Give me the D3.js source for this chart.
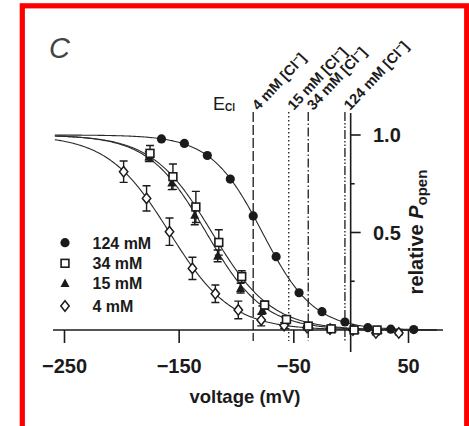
<!DOCTYPE html>
<html>
<head>
<meta charset="utf-8">
<script src="https://cdn.jsdelivr.net/npm/d3@7"></script>
<style>
html,body{margin:0;padding:0;background:#fff;}
svg{display:block;}
text{font-family:"Liberation Sans",Arial,sans-serif;}
</style>
</head>
<body>
<svg id="chart" width="469" height="426"></svg>
<script>
// ---- data ----
const seriesNames = ["124 mM", "34 mM", "15 mM", "4 mM"];
const v124 = [-165, -145, -125, -105, -85, -65, -45, -25, -5, 15, 35, 55];
const p124 = [0.98, 0.957, 0.895, 0.774, 0.585, 0.376, 0.191, 0.094, 0.041, 0.012, 0.004, 0.002];
const e124 = [0, 0, 0, 0, 0, 0, 0, 0, 0, 0, 0, 0];
const v34 = [-175, -155, -135, -115, -95, -75, -56, -37, -17, 3, 23];
const p34 = [0.906, 0.786, 0.631, 0.449, 0.274, 0.128, 0.054, 0.02, 0.006, 0.0, 0.0];
const e34 = [0.04, 0.065, 0.08, 0.065, 0.03, 0.02, 0.015, 0.012, 0.01, 0.01, 0.008];
const v15 = [-176, -156, -136, -116, -96, -77, -57, -36, -16, 4, 24];
const p15 = [0.889, 0.755, 0.59, 0.38, 0.215, 0.103, 0.051, 0.022, 0.008, 0.002, 0.0];
const e15 = [0.025, 0.035, 0.05, 0.03, 0.025, 0.02, 0.015, 0.01, 0.005, 0.004, 0.004];
const v4 = [-198, -178, -158, -138, -118, -98, -78, -58, -38, -18, 2, 22, 42];
const p4 = [0.812, 0.675, 0.504, 0.316, 0.186, 0.103, 0.051, 0.023, 0.012, 0.005, 0.0, -0.015, -0.015];
const e4 = [0.055, 0.065, 0.07, 0.057, 0.045, 0.045, 0.03, 0.015, 0.01, 0.008, 0.005, 0.01, 0.01];
// Boltzmann fit parameters per series
const fitVHalf = [-77, -121, -126, -158];
const fitSlope = [22.5, 26, 25, 27];
// reversal potentials
const eclLabels = ["4 mM [Cl", "15 mM [Cl", "34 mM [Cl", "124 mM [Cl"];
const eclValues = [-85, -54, -37, -5];
const xTicks = [-250, -150, -50, 50];
const xTickLabels = ["\u2212250", "\u2212150", "\u221250", "50"];
const yTicks = [0, 0.25, 0.5, 0.75, 1.0];
const yTickLabels = ["1.0", "0.5"];
const yTickLabelValues = [1.0, 0.5];

// ---- setup ----
const svg = d3.select("#chart");
const ink = "#1b1b1b";
const x = d3.scaleLinear().domain([-250, 50]).range([64, 408]);
const y = d3.scaleLinear().domain([0, 1]).range([330, 135]);

// red frame
svg.append("rect").attr("x", 22.3).attr("y", 5.8).attr("width", 444.4).attr("height", 440)
  .attr("fill", "none").attr("stroke", "#f00").attr("stroke-width", 5.2);

// panel letter
svg.append("text").attr("x", 49).attr("y", 58).text("C")
  .attr("font-family", "'Liberation Serif','DejaVu Serif',serif").attr("font-style", "italic")
  .attr("font-size", 29).attr("fill", "#444");

// x axis
const xAxisG = svg.append("g").attr("transform", "translate(0,330)");
xAxisG.call(d3.axisBottom(x).tickValues(xTicks).tickSize(13).tickFormat((d, i) => xTickLabels[i]));
xAxisG.select(".domain").attr("d", "M53,0H443").attr("stroke", ink).attr("stroke-width", 1.6);
xAxisG.selectAll(".tick line").attr("stroke", ink).attr("stroke-width", 1.6);
xAxisG.selectAll(".tick text").attr("fill", ink).attr("font-size", 20).attr("font-weight", "bold")
  .attr("font-family", "'Liberation Sans',Arial,sans-serif").attr("dy", null).attr("y", 43);

svg.append("text").attr("x", 245).attr("y", 403).attr("text-anchor", "middle")
  .attr("font-size", 18.5).attr("font-weight", "bold").attr("fill", ink).text("voltage (mV)");

// y axis (at 0 mV)
const x0 = x(0);
svg.append("line").attr("x1", x0).attr("x2", x0).attr("y1", 113).attr("y2", 352)
  .attr("stroke", ink).attr("stroke-width", 1.6);
svg.selectAll(".ytick").data(yTicks).join("line").attr("class", "ytick")
  .attr("x1", x0).attr("x2", d => x0 + (d === 0.5 || d === 1 ? 10 : 4))
  .attr("y1", d => y(d)).attr("y2", d => y(d)).attr("stroke", ink).attr("stroke-width", 1.6);
svg.selectAll(".ylab").data(yTickLabelValues).join("text").attr("class", "ylab")
  .attr("x", 373).attr("y", d => y(d) + 7).attr("font-size", 20).attr("font-weight", "bold")
  .attr("fill", ink).text((d, i) => yTickLabels[i]);

const yl = svg.append("text").attr("transform", "translate(423,232) rotate(-90)")
  .attr("text-anchor", "middle").attr("font-size", 20).attr("font-weight", "bold").attr("fill", ink);
yl.append("tspan").text("relative ");
yl.append("tspan").attr("font-style", "italic").text("P");
yl.append("tspan").attr("font-size", 15).attr("dy", 4).text("open");

// reversal potential lines
const dashes = ["10,3", "1.4,2.6", "9,2.5,1.5,2.5", "9,2,1.5,2,1.5,2"];
svg.selectAll(".ecl").data(eclValues).join("line").attr("class", "ecl")
  .attr("x1", d => x(d)).attr("x2", d => x(d)).attr("y1", 112).attr("y2", 341)
  .attr("stroke", ink).attr("stroke-width", 1.3).attr("stroke-dasharray", (d, i) => dashes[i]);
eclValues.forEach((v, i) => {
  const t = svg.append("text").attr("transform", `translate(${x(v) + 5},111) rotate(-47)`)
    .attr("font-size", 14.5).attr("font-weight", "bold").attr("fill", ink);
  t.append("tspan").text(eclLabels[i]);
  t.append("tspan").attr("font-size", 10.5).attr("dy", -5).text("\u2212");
  t.append("tspan").attr("dy", 5).text("]");
});
const el = svg.append("text").attr("x", 213).attr("y", 110).attr("font-size", 18).attr("fill", ink);
el.append("tspan").text("E");
el.append("tspan").attr("font-size", 10).attr("font-weight", "bold").attr("dy", 1).text("Cl");

// fit curves
const curveV = d3.range(-258, 76, 1);
const line = d3.line().x(d => x(d[0])).y(d => y(d[1]));
fitVHalf.forEach((vh, i) => {
  const pts = curveV.map(v => [v, 1 / (1 + Math.exp((v - vh) / fitSlope[i]))]);
  svg.append("path").attr("d", line(pts)).attr("fill", "none").attr("stroke", "#2a2a2a").attr("stroke-width", 1.1);
});

// markers
function diamondPath(cx, cy, w, h) {
  return `M${cx},${cy - h}L${cx + w},${cy}L${cx},${cy + h}L${cx - w},${cy}Z`;
}
function drawMarker(g, kind, cx, cy) {
  if (kind === 0) {
    g.append("circle").attr("cx", cx).attr("cy", cy).attr("r", 4.6).attr("fill", ink);
  } else if (kind === 1) {
    g.append("rect").attr("x", cx - 3.9).attr("y", cy - 3.9).attr("width", 7.8).attr("height", 7.8)
      .attr("fill", "#fff").attr("stroke", ink).attr("stroke-width", 1.6);
  } else if (kind === 2) {
    g.append("path").attr("d", `M${cx},${cy - 4.8}L${cx + 4.5},${cy + 3.8}L${cx - 4.5},${cy + 3.8}Z`).attr("fill", ink);
  } else {
    g.append("path").attr("d", diamondPath(cx, cy, 4.2, 5.2)).attr("fill", "#fff").attr("stroke", ink).attr("stroke-width", 1.5);
  }
}
const series = [[v124, p124, e124], [v34, p34, e34], [v15, p15, e15], [v4, p4, e4]];
const drawOrder = [3, 2, 1, 0];
drawOrder.forEach(si => {
  const [vs, ps, es] = series[si];
  const g = svg.append("g");
  vs.forEach((v, j) => {
    const cx = x(v), cy = y(ps[j]), e = es[j];
    if (e > 0) {
      const yt = y(ps[j] + e), yb = y(ps[j] - e);
      g.append("path").attr("d", `M${cx},${yt}V${yb}M${cx - 4},${yt}H${cx + 4}M${cx - 4},${yb}H${cx + 4}`)
        .attr("stroke", ink).attr("stroke-width", 1.4).attr("fill", "none");
    }
    drawMarker(g, si, cx, cy);
  });
});

// legend
const legY = [242.7, 263.3, 283.3, 306];
seriesNames.forEach((n, i) => {
  const g = svg.append("g");
  drawMarker(g, i, 65, legY[i]);
  g.append("text").attr("x", 92.5).attr("y", legY[i] + 6).attr("font-size", 16).attr("font-weight", "bold")
    .attr("fill", ink).text(n);
});
</script>
</body>
</html>
